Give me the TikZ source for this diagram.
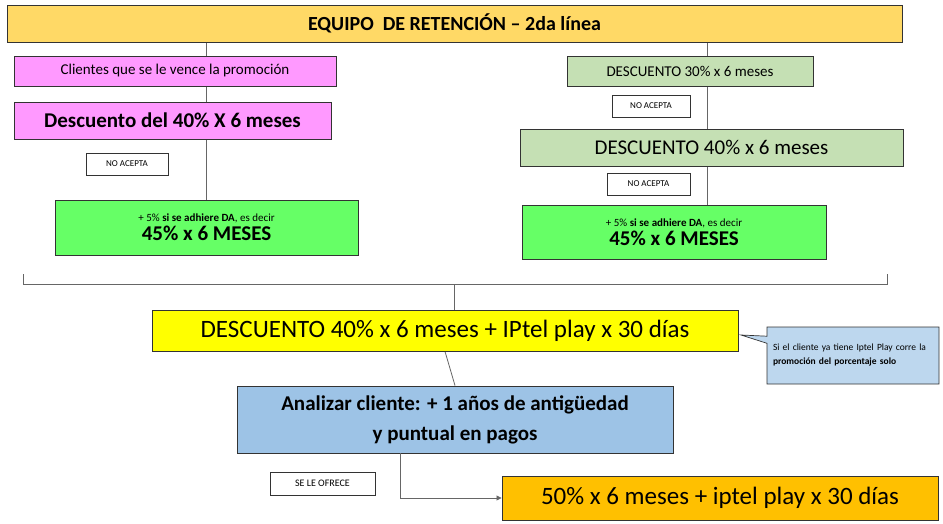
\documentclass[tikz,border=0pt]{standalone}
\usepackage{fontspec}
\setmainfont{Carlito}
\usetikzlibrary{shapes.callouts,backgrounds,arrows.meta}
\definecolor{cTitle}{HTML}{FFD966}
\definecolor{cPink}{HTML}{FF99FF}
\definecolor{cLG}{HTML}{C5E0B4}
\definecolor{cG}{HTML}{66FF66}
\definecolor{cY}{HTML}{FFFF00}
\definecolor{cB}{HTML}{9DC3E6}
\definecolor{cCall}{HTML}{BDD7EE}
\definecolor{cO}{HTML}{FFC000}
\tikzset{
 bx/.style={draw=black!80, line width=0.9pt, inner sep=0pt, align=center},
 tag/.style={draw=black!80, line width=0.7pt, fill=white, inner sep=0pt, font=\fontsize{9}{10}\selectfont},
 ln/.style={draw=black!60, line width=0.8pt},
}
\begin{document}
\begin{tikzpicture}[x=1pt,y=-1pt]
\useasboundingbox (0,0) rectangle (943,524);
\node[bx,fill=cTitle,minimum width=895pt,minimum height=37pt,font=\fontsize{20}{24}\selectfont\bfseries] (title) at (454.5,23.5) {EQUIPO\ \ DE RETENCIÓN – 2da línea};
\node[bx,fill=cPink,minimum width=322pt,minimum height=30pt,font=\fontsize{15}{18}\selectfont] (p1) at (175,71) {Clientes que se le vence la promoción};
\node[bx,fill=cPink,minimum width=317pt,minimum height=37pt,font=\fontsize{21}{25}\selectfont\bfseries] (p2) at (172.5,120.5) {Descuento del 40\% X 6 meses};
\node[tag,minimum width=82pt,minimum height=22pt] (na1) at (127,164) {NO ACEPTA};
\node[bx,fill=cG,minimum width=303pt,minimum height=55pt] (gl) at (206.5,227.5) {{\fontsize{11}{14}\selectfont + 5\% \textbf{si se adhiere DA}, es decir}\\[2pt]{\fontsize{21}{25}\selectfont\bfseries 45\% x 6 MESES}};
\node[bx,fill=cLG,minimum width=246pt,minimum height=30pt,font=\fontsize{15}{18}\selectfont] (r1) at (690,71) {DESCUENTO 30\% x 6 meses};
\node[tag,minimum width=78pt,minimum height=22pt] (na2) at (651,106) {NO ACEPTA};
\node[bx,fill=cLG,minimum width=383pt,minimum height=37pt,font=\fontsize{21}{25}\selectfont] (r2) at (711.5,147.5) {DESCUENTO 40\% x 6 meses};
\node[tag,minimum width=83pt,minimum height=22pt] (na3) at (648.5,184) {NO ACEPTA};
\node[bx,fill=cG,minimum width=304pt,minimum height=54pt] (gr) at (674,232) {{\fontsize{11}{14}\selectfont + 5\% \textbf{si se adhiere DA}, es decir}\\[2pt]{\fontsize{21}{25}\selectfont\bfseries 45\% x 6 MESES}};
\node[bx,fill=cY,minimum width=586pt,minimum height=41pt,font=\fontsize{25}{30}\selectfont] (y) at (445,330.5) {DESCUENTO 40\% x 6 meses + IPtel play x 30 días};
\node[rectangle callout,draw=black!80,line width=0.7pt,fill=cCall,minimum width=172pt,minimum height=57pt,inner sep=4pt,align=left,text width=160pt,font=\fontsize{9.5}{14}\selectfont,callout absolute pointer={(741,335)}] (call) at (853,355.5) {Si el cliente ya tiene Iptel Play corre la \textbf{promoción del porcentaje solo}};
\node[bx,fill=cB,minimum width=436pt,minimum height=67pt,font=\fontsize{21}{30}\selectfont\bfseries] (bl) at (455,419.5) {Analizar cliente: + 1 años de antigüedad\\y puntual en pagos};
\node[tag,minimum width=105pt,minimum height=23pt,font=\fontsize{10}{12}\selectfont] (se) at (322.5,483.5) {SE LE OFRECE};
\node[bx,fill=cO,minimum width=436pt,minimum height=44pt,font=\fontsize{25}{30}\selectfont] (o) at (720,498) {50\% x 6 meses + iptel play x 30 días};
\coordinate (brL) at (23,274);
\coordinate (brR) at (887,274);
\coordinate (brC) at (454,284);
\begin{scope}[on background layer]
\draw[ln] (title.south -| gl.north) -- (gl.north);
\draw[ln] (707,42) coordinate (rt) -- (rt |- gr.north);
\draw[ln] (brL) -- (brL |- brC) -- (brR |- brC) -- (brR);
\draw[ln] (brC) -- (brC |- y.north);
\draw[ln] (y.south) -- (bl.north);
\end{scope}
\draw[ln,-{Triangle[length=5pt,width=5pt]}] (400,453) coordinate (ab) -- (ab |- o.west) -- (o.west);
\end{tikzpicture}
\end{document}
